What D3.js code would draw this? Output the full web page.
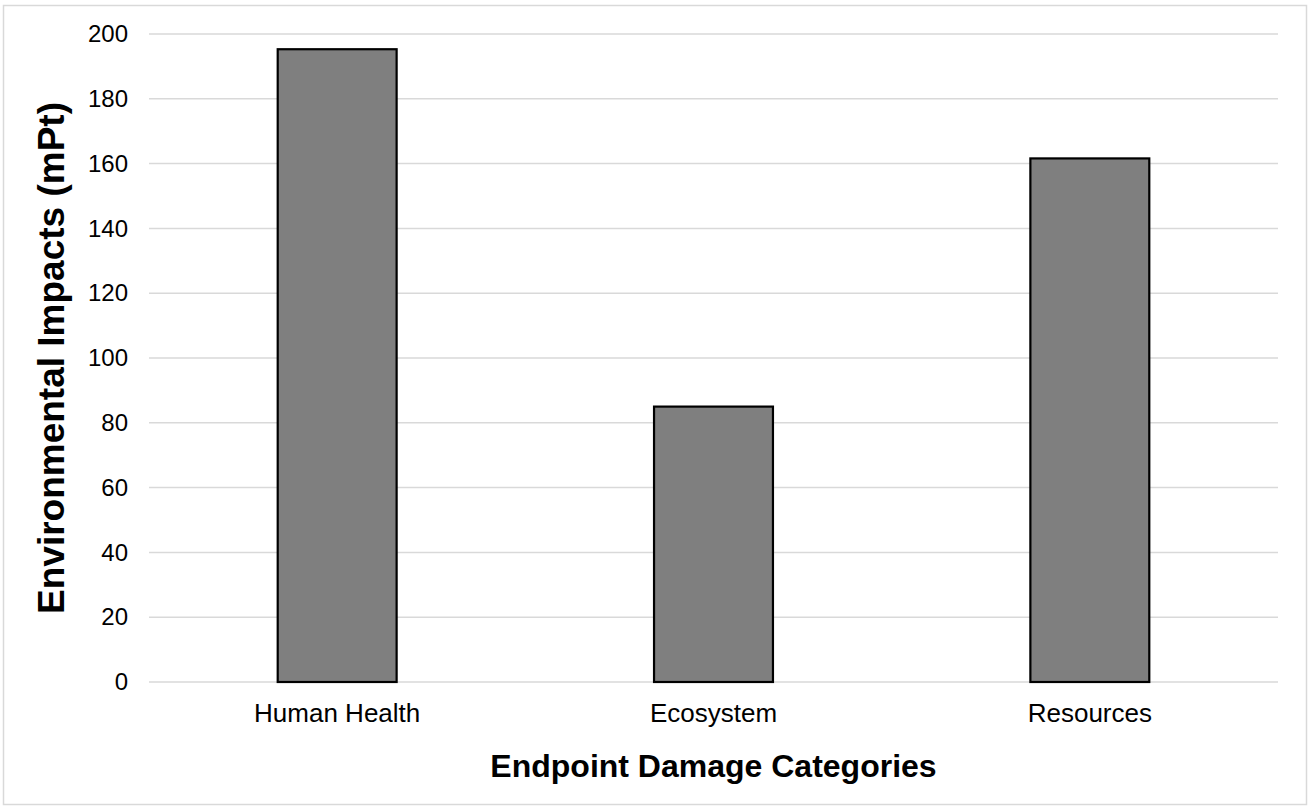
<!DOCTYPE html>
<html>
<head>
<meta charset="utf-8">
<script src="https://cdn.jsdelivr.net/npm/d3@7"></script>
<style>
  html, body { margin: 0; padding: 0; background: #fff; }
  svg { display: block; font-family: "Liberation Sans", Arial, sans-serif; }
</style>
</head>
<body>
<svg id="chart" width="1314" height="806"></svg>
<script>
const categories = ["Human Health", "Ecosystem", "Resources"];
const values = [195.3, 85.0, 161.6];
const yTicks = [0, 20, 40, 60, 80, 100, 120, 140, 160, 180, 200];
const xTitle = "Endpoint Damage Categories";
const yTitle = "Environmental Impacts (mPt)";

const svg = d3.select("#chart");
const plot = { left: 149, right: 1278, top: 34, bottom: 682 };

// outer frame
svg.append("rect")
  .attr("x", 3.5).attr("y", 5.5)
  .attr("width", 1303).attr("height", 799)
  .attr("fill", "#fff").attr("stroke", "#d9d9d9").attr("stroke-width", 1.5);

const x = d3.scaleBand()
  .domain(categories)
  .range([plot.left, plot.right])
  .paddingInner(0.684)
  .paddingOuter(0.342);

const y = d3.scaleLinear()
  .domain([0, 200])
  .range([plot.bottom, plot.top]);

// gridlines
svg.append("g")
  .selectAll("line")
  .data(yTicks)
  .join("line")
  .attr("x1", plot.left).attr("x2", plot.right)
  .attr("y1", d => y(d)).attr("y2", d => y(d))
  .attr("stroke", "#d9d9d9").attr("stroke-width", 1.5);

// y axis labels
const yAxis = d3.axisLeft(y).tickValues(yTicks).tickSize(0).tickPadding(21);
const gy = svg.append("g").attr("transform", `translate(${plot.left},0)`).call(yAxis);
gy.select(".domain").remove();
gy.selectAll("text")
  .attr("font-size", 24)
  .attr("fill", "#000")
  .attr("font-family", "Liberation Sans, Arial, sans-serif");

// bars
svg.append("g")
  .selectAll("rect")
  .data(categories)
  .join("rect")
  .attr("x", d => x(d))
  .attr("y", (d, i) => y(values[i]))
  .attr("width", x.bandwidth())
  .attr("height", (d, i) => y(0) - y(values[i]))
  .attr("fill", "#7f7f7f")
  .attr("stroke", "#000")
  .attr("stroke-width", 2.2);

// x axis labels
const xAxis = d3.axisBottom(x).tickSize(0).tickPadding(0);
const gx = svg.append("g").attr("transform", `translate(0,${plot.bottom})`).call(xAxis);
gx.select(".domain").remove();
gx.selectAll("text")
  .attr("dy", null)
  .attr("y", 40)
  .attr("font-size", 26)
  .attr("fill", "#000")
  .attr("font-family", "Liberation Sans, Arial, sans-serif");

// axis titles
svg.append("text")
  .attr("x", (plot.left + plot.right) / 2)
  .attr("y", 777)
  .attr("text-anchor", "middle")
  .attr("font-size", 32)
  .attr("font-weight", "bold")
  .text(xTitle);

svg.append("text")
  .attr("transform", `translate(64,${(plot.top + plot.bottom) / 2}) rotate(-90)`)
  .attr("text-anchor", "middle")
  .attr("font-size", 37)
  .attr("font-weight", "bold")
  .text(yTitle);
</script>
</body>
</html>
